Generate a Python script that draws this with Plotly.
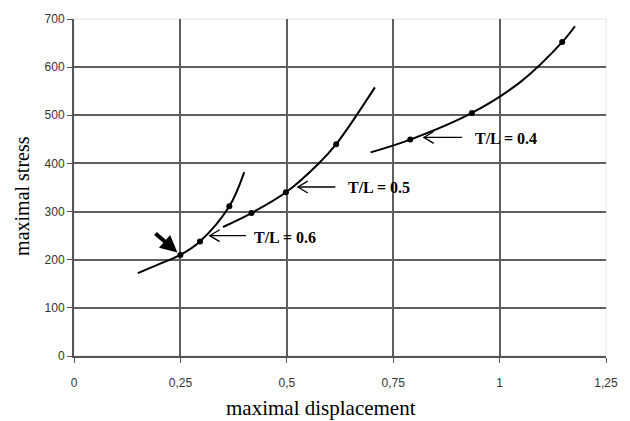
import plotly.graph_objects as go

# ---- data ----
# curve T/L = 0.6
c06_x = [0.15, 0.20, 0.25, 0.296, 0.365, 0.40]
c06_y = [172, 191, 210, 238, 311, 382]
p06_x = [0.25, 0.296, 0.365]
p06_y = [210, 238, 311]

# curve T/L = 0.5
c05_x = [0.35, 0.417, 0.498, 0.575, 0.616, 0.707]
c05_y = [268, 297, 340, 400, 440, 558]
p05_x = [0.417, 0.498, 0.616]
p05_y = [297, 340, 440]

# curve T/L = 0.4
c04_x = [0.697, 0.79, 0.935, 1.05, 1.147, 1.177]
c04_y = [423, 449.5, 505, 570, 652, 685]
p04_x = [0.79, 0.935, 1.147]
p04_y = [449.5, 505, 652]

labels = ["T/L = 0.6", "T/L = 0.5", "T/L = 0.4"]

x_ticks = [0, 0.25, 0.5, 0.75, 1, 1.25]
y_ticks = [0, 100, 200, 300, 400, 500, 600, 700]

X_RANGE = [0, 1.25]
Y_RANGE = [0, 700]
W, H = 630, 421
M = dict(l=74, r=19, t=16, b=65)
PW = W - M["l"] - M["r"]
PH = H - M["t"] - M["b"]
ux = (X_RANGE[1] - X_RANGE[0]) / PW   # data units per pixel
uy = (Y_RANGE[1] - Y_RANGE[0]) / PH

fig = go.Figure()
for cx, cy, px, py in [(c06_x, c06_y, p06_x, p06_y),
                       (c05_x, c05_y, p05_x, p05_y),
                       (c04_x, c04_y, p04_x, p04_y)]:
    fig.add_trace(go.Scatter(x=cx, y=cy, mode="lines",
                             line=dict(color="black", width=2, shape="spline", smoothing=1.0),
                             hoverinfo="skip", showlegend=False))
    fig.add_trace(go.Scatter(x=px, y=py, mode="markers",
                             marker=dict(color="black", size=6),
                             showlegend=False))

# label arrows (tip, tail, text position)
ann_specs = [
    (0.319, 250, 0.404, 0.496, 247, labels[0]),
    (0.526, 351, 0.614, 0.717, 349, labels[1]),
    (0.822, 454, 0.912, 1.014, 451, labels[2]),
]
annotations = []
shapes = [dict(type="rect", xref="paper", yref="paper", x0=0, x1=1, y0=0, y1=1,
               line=dict(color="#e4e4e4", width=1), layer="below")]
for tx, ty, tailx, labx, laby, txt in ann_specs:
    shapes.append(dict(type="line", xref="x", yref="y", x0=tx, y0=ty, x1=tailx, y1=ty,
                       line=dict(color="black", width=1.3)))
    hx, hy = 10 * ux, 6 * uy
    shapes.append(dict(type="path", xref="x", yref="y",
                       path=f"M{tx + hx},{ty + hy} L{tx},{ty} L{tx + hx},{ty - hy}",
                       line=dict(color="black", width=1.3)))
    annotations.append(dict(x=labx, y=laby, xref="x", yref="y", text="<b>" + txt + "</b>",
                            showarrow=False,
                            font=dict(family="Liberation Serif", size=16, color="black")))
# bold pointer arrow
annotations.append(dict(x=0.243, y=215, ax=0.188, ay=257, xref="x", yref="y",
                        axref="x", ayref="y", text="", showarrow=True,
                        arrowhead=2, arrowsize=0.85, arrowwidth=4, arrowcolor="black"))
# axis titles
annotations.append(dict(x=(323 - M["l"]) / PW, y=-(408 - M["t"] - PH) / PH, xref="paper", yref="paper",
                        xanchor="center", yanchor="middle",
                        text="maximal displacement", showarrow=False,
                        font=dict(family="Liberation Serif", size=21, color="black")))
annotations.append(dict(x=-(M["l"] - 22) / PW, y=1 - (194 - M["t"]) / PH, xref="paper", yref="paper",
                        xanchor="center", yanchor="middle",
                        text="maximal stress", showarrow=False, textangle=-90,
                        font=dict(family="Liberation Serif", size=20, color="black")))

axis_common = dict(showgrid=True, gridcolor="#5e5e5e", gridwidth=1.6, zeroline=False,
                   showline=True, linecolor="#555555", linewidth=2, ticks="outside",
                   ticklen=5, tickcolor="#555555",
                   tickfont=dict(family="Liberation Sans", size=12, color="#333333"))

fig.update_layout(
    width=W, height=H,
    margin=M,
    paper_bgcolor="white", plot_bgcolor="white",
    separators=",.",
    annotations=annotations,
    shapes=shapes,
    xaxis=dict(range=X_RANGE, tickvals=x_ticks, ticklabelstandoff=10, **axis_common),
    yaxis=dict(range=Y_RANGE, tickvals=y_ticks, **axis_common),
)

fig.write_html("out.html")
